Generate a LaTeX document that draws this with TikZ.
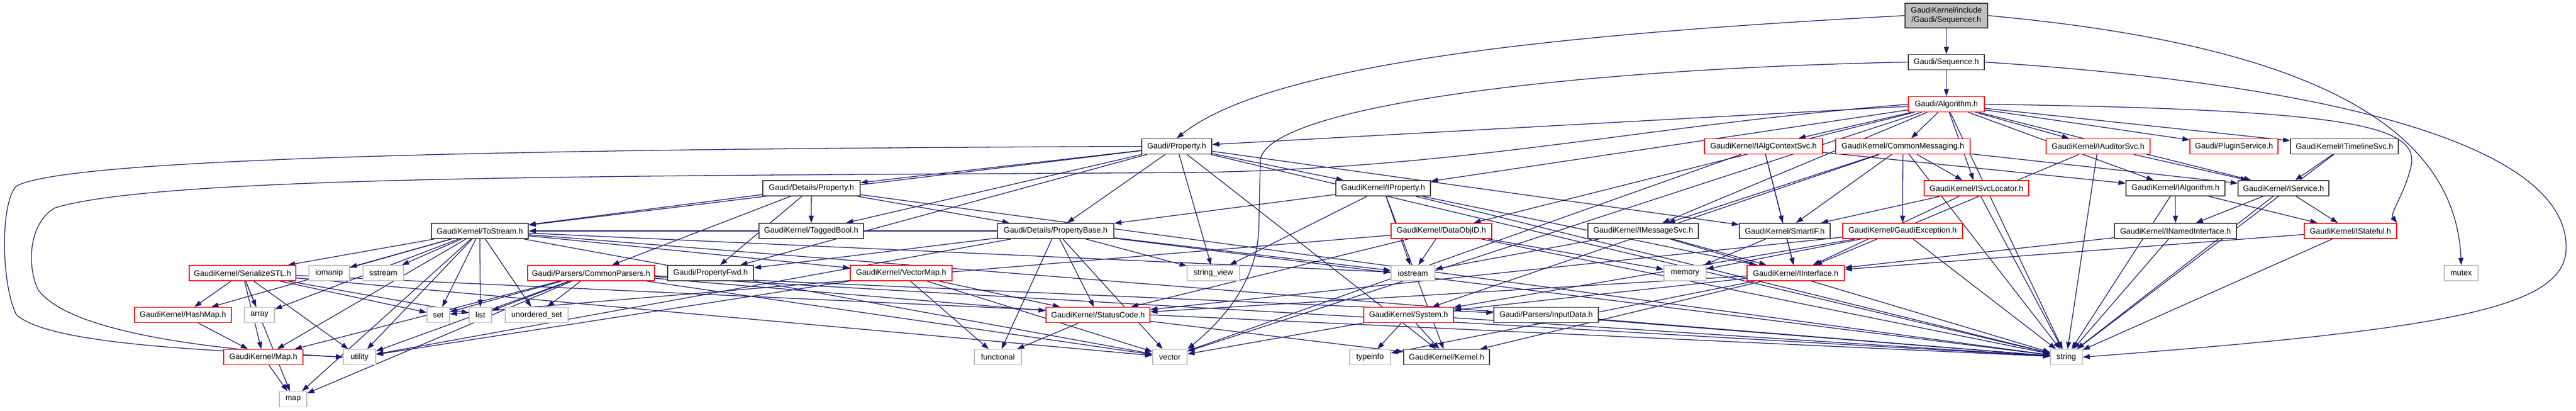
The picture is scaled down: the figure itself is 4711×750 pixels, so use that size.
\documentclass[tikz,border=0pt]{standalone}
\usepackage{fontspec}
\setmainfont{Liberation Sans}
\usetikzlibrary{arrows.meta,backgrounds}

\definecolor{edgeblue}{HTML}{191970}
\definecolor{boxgray}{HTML}{BFBFBF}
\definecolor{boxred}{HTML}{FF0000}
\definecolor{boxdark}{HTML}{404040}

\tikzset{
  incl/.style={draw=boxdark, line width=1.5pt, fill=white, minimum height=28pt, inner sep=0pt, font=\fontsize{14.4}{17}\selectfont},
  incltrunc/.style={incl, draw=boxred},
  inclsys/.style={incl, draw=boxgray},
  incltop/.style={incl, fill=boxgray, align=center, minimum height=45pt},
  wd/.style={minimum width=#1pt},
  dep/.style={draw=edgeblue, line width=1.3pt, -{Triangle[length=13pt,width=9pt]}},
}

\begin{document}
\begin{tikzpicture}[x=1pt,y=-1pt]
\pgfmathsetmacro{\rowa}{28.5};
\pgfmathsetmacro{\rowb}{113.5};
\pgfmathsetmacro{\rowc}{190.5};
\pgfmathsetmacro{\rowd}{267.5};
\pgfmathsetmacro{\rowe}{344};
\pgfmathsetmacro{\rowf}{422};
\pgfmathsetmacro{\rowg}{499};
\pgfmathsetmacro{\rowh}{575.5};
\pgfmathsetmacro{\rowi}{652.5};
\pgfmathsetmacro{\rowj}{729.5};

\useasboundingbox (0,0) rectangle (4711,750);

\node[incltop, wd=151] (seqr) at (3559.5,\rowa) {GaudiKernel/include\\/Gaudi/Sequencer.h};
\node[incl, wd=139] (seq) at (3559.5,\rowb) {Gaudi/Sequence.h};
\node[incltrunc, wd=139] (alg) at (3559.5,\rowc) {Gaudi/Algorithm.h};

\node[incl, wd=128] (prop) at (2152,\rowd) {Gaudi/Property.h};
\node[incltrunc, wd=216] (ictx) at (3225,\rowd) {GaudiKernel/IAlgContextSvc.h};
\node[incltrunc, wd=246] (cmsg) at (3480,\rowd) {GaudiKernel/CommonMessaging.h};
\node[incltrunc, wd=190] (iaud) at (3837,\rowd) {GaudiKernel/IAuditorSvc.h};
\node[incltrunc, wd=161] (plug) at (4085.5,\rowd) {Gaudi/PluginService.h};
\node[incl, wd=197] (itml) at (4287.5,\rowd) {GaudiKernel/ITimelineSvc.h};

\node[incl, wd=178] (dprop) at (1484,\rowe) {Gaudi/Details/Property.h};
\node[incl, wd=173] (iprop) at (2529.5,\rowe) {GaudiKernel/IProperty.h};
\node[incltrunc, wd=191] (isvcl) at (3614.5,\rowe) {GaudiKernel/ISvcLocator.h};
\node[incl, wd=181] (ialg) at (3978.5,\rowe) {GaudiKernel/IAlgorithm.h};
\node[incl, wd=166] (isvc) at (4176,\rowe) {GaudiKernel/IService.h};

\node[incl, wd=177] (tostr) at (877.5,\rowf) {GaudiKernel/ToStream.h};
\node[incl, wd=191] (tbool) at (1483.5,\rowf) {GaudiKernel/TaggedBool.h};
\node[incl, wd=213] (pbase) at (1930.5,\rowf) {Gaudi/Details/PropertyBase.h};
\node[incltrunc, wd=184] (doid) at (2636,\rowf) {GaudiKernel/DataObjID.h};
\node[incl, wd=202] (imsg) at (3005,\rowf) {GaudiKernel/IMessageSvc.h};
\node[incl, wd=166] (smart) at (3264,\rowf) {GaudiKernel/SmartIF.h};
\node[incltrunc, wd=219] (gexc) at (3479.5,\rowf) {GaudiKernel/GaudiException.h};
\node[incl, wd=223] (inamed) at (3978.5,\rowf) {GaudiKernel/INamedInterface.h};
\node[incltrunc, wd=169] (istate) at (4298.5,\rowf) {GaudiKernel/IStateful.h};

\node[incltrunc, wd=195] (sstl) at (443.5,\rowg) {GaudiKernel/SerializeSTL.h};
\node[inclsys, wd=74] (iomanip) at (602,\rowg) {iomanip};
\node[inclsys, wd=74] (sstream) at (701,\rowg) {sstream};
\node[incltrunc, wd=232] (cpars) at (1081,\rowg) {Gaudi/Parsers/CommonParsers.h};
\node[incl, wd=157] (pfwd) at (1299.5,\rowg) {Gaudi/PropertyFwd.h};
\node[incltrunc, wd=186] (vmap) at (1648,\rowg) {GaudiKernel/VectorMap.h};
\node[inclsys, wd=96] (strv) at (2219,\rowg) {string\_view};
\node[inclsys, wd=80] (iostream) at (2584,\rowg) {iostream};
\node[inclsys, wd=77] (memory) at (3081.5,\rowg) {memory};
\node[incltrunc, wd=178] (iintf) at (3284,\rowg) {GaudiKernel/IInterface.h};
\node[inclsys, wd=62] (mutex) at (4501,\rowg) {mutex};

\node[incltrunc, wd=177] (hmap) at (334.5,\rowh) {GaudiKernel/HashMap.h};
\node[inclsys, wd=55] (array) at (474.5,\rowh) {array};
\node[inclsys, wd=41] (set) at (801.5,\rowh) {set};
\node[inclsys, wd=41] (list) at (878.5,\rowh) {list};
\node[inclsys, wd=115] (uset) at (981.5,\rowh) {unordered\_set};
\node[incltrunc, wd=190] (scode) at (2008,\rowh) {GaudiKernel/StatusCode.h};
\node[incltrunc, wd=164] (system) at (2576,\rowh) {GaudiKernel/System.h};
\node[incl, wd=191] (indata) at (2827.5,\rowh) {Gaudi/Parsers/InputData.h};

\node[incltrunc, wd=145] (gmap) at (481.5,\rowi) {GaudiKernel/Map.h};
\node[inclsys, wd=59] (utility) at (657.5,\rowi) {utility};
\node[inclsys, wd=86] (functional) at (1825,\rowi) {functional};
\node[inclsys, wd=63] (vector) at (2139.5,\rowi) {vector};
\node[inclsys, wd=75] (typeinfo) at (2505.5,\rowi) {typeinfo};
\node[incl, wd=157] (kernel) at (2645.5,\rowi) {GaudiKernel/Kernel.h};
\node[inclsys, wd=58] (string) at (3779,\rowi) {string};

\node[inclsys, wd=50] (map) at (536,\rowj) {map};

\begin{scope}[on background layer]
\draw[dep] (seqr.west) .. controls (2900,60) and (2330,110) .. (prop.north);
\draw[dep] (seqr) -- (seq);
\draw[dep] (seqr.east) .. controls (4200,80) and (4490,220) .. (mutex.north);

\draw[dep] (seq) -- (alg);
\draw[dep] (seq.east) .. controls (4200,150) and (4690,250) .. (4693,450) .. controls (4695,560) and (4500,600) .. (string.east);
\draw[dep] (seq.west) .. controls (2900,125) and (2330,190) .. (2305,290) -- (2302,420) .. controls (2298,520) and (2230,590) .. (vector.north east);

\foreach \t in {prop,ictx,cmsg,iaud,plug,itml,isvcl,ialg,isvc,iprop,doid,imsg,string,vector}
  \draw[dep] (alg) -- (\t);
\draw[dep] (alg.east) .. controls (4300,200) and (4420,230) .. (4410,300) .. controls (4400,350) and (4370,390) .. (istate.north east);
\draw[dep] (alg.west) .. controls (3000,230) and (2700,305) .. (2200,315) .. controls (1200,322) and (300,318) .. (100,380) .. controls (50,410) and (50,490) .. (70,530) .. controls (130,610) and (400,640) .. (utility.west);

\foreach \t in {dprop,pbase,pfwd,iprop,tostr,tbool,strv,smart,kernel,string}
  \draw[dep] (prop) -- (\t);
\draw[dep] (prop.west) .. controls (900,272) and (120,290) .. (30,340) .. controls (0,370) and (2,520) .. (30,575) .. controls (90,630) and (380,640) .. (utility.west);

\foreach \t in {ialg,iintf,smart,vector}
  \draw[dep] (ictx) -- (\t);
\foreach \t in {isvcl,isvc,imsg,smart,gexc,system,string}
  \draw[dep] (cmsg) -- (\t);
\foreach \t in {isvc,iintf,string}
  \draw[dep] (iaud) -- (\t);
\foreach \t in {isvc,string}
  \draw[dep] (itml) -- (\t);

\foreach \t in {tostr,cpars,pfwd,tbool,pbase,string}
  \draw[dep] (dprop) -- (\t);
\foreach \t in {iintf,iostream,pbase,strv,kernel,string}
  \draw[dep] (iprop) -- (\t);
\foreach \t in {smart,iintf,string}
  \draw[dep] (isvcl) -- (\t);
\foreach \t in {inamed,istate,string}
  \draw[dep] (ialg) -- (\t);
\foreach \t in {inamed,istate,string}
  \draw[dep] (isvc) -- (\t);

\foreach \t in {sstl,iomanip,sstream,hmap,array,gmap,map,utility,set,list,uset,vmap,iostream,vector,string}
  \draw[dep] (tostr) -- (\t);
\foreach \t in {tostr,pfwd,scode,functional,strv,iostream,utility,vector,string}
  \draw[dep] (pbase) -- (\t);
\foreach \t in {iostream,memory,set,scode,string}
  \draw[dep] (doid) -- (\t);
\foreach \t in {iostream,iintf,string}
  \draw[dep] (imsg) -- (\t);
\foreach \t in {iintf,memory}
  \draw[dep] (smart) -- (\t);
\foreach \t in {memory,scode,system,string}
  \draw[dep] (gexc) -- (\t);
\foreach \t in {iintf,string}
  \draw[dep] (inamed) -- (\t);
\foreach \t in {iintf,string}
  \draw[dep] (istate) -- (\t);

\foreach \t in {hmap,array,gmap,map,utility,set,list,vector,string}
  \draw[dep] (sstl) -- (\t);
\foreach \t in {set,list,uset,gmap,map,utility,scode,indata,vector,string}
  \draw[dep] (cpars) -- (\t);
\foreach \t in {utility,functional,vector,scode}
  \draw[dep] (vmap) -- (\t);
\foreach \t in {scode,system,kernel,typeinfo}
  \draw[dep] (iintf) -- (\t);

\draw[dep] (hmap) -- (gmap);
\draw[dep] (gmap) -- (map);
\foreach \t in {functional,kernel}
  \draw[dep] (scode) -- (\t);
\foreach \t in {typeinfo,kernel,vector,string}
  \draw[dep] (system) -- (\t);
\draw[dep] (indata) -- (string);
\end{scope}
\end{tikzpicture}
\end{document}
